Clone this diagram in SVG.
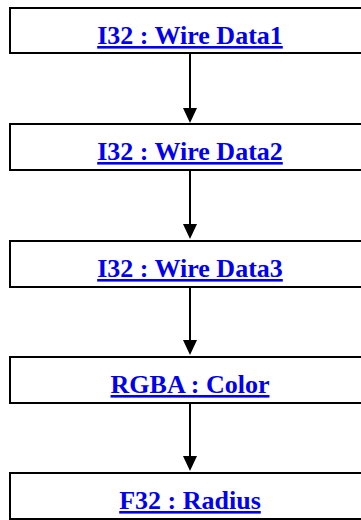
<svg xmlns="http://www.w3.org/2000/svg" width="361" height="520" viewBox="0 0 361 520">
<style>
.box{fill:#fff;stroke:#000;stroke-width:2}
.lbl{font-family:"Liberation Serif","Times New Roman",serif;font-weight:bold;font-size:26px;fill:#0000ee;text-anchor:middle;text-decoration:underline}
.edge{stroke:#000;stroke-width:2;fill:none}
.head{fill:#000}
</style>
<rect width="361" height="520" fill="#fff"/>
<g id="connectors">
<line class="edge" x1="190" y1="54" x2="190" y2="110"/><path class="head" d="M183,108 L197,108 L190,123 Z"/>
<line class="edge" x1="190" y1="170" x2="190" y2="226"/><path class="head" d="M183,224 L197,224 L190,239 Z"/>
<line class="edge" x1="190" y1="287" x2="190" y2="342"/><path class="head" d="M183,340 L197,340 L190,355 Z"/>
<line class="edge" x1="190" y1="403" x2="190" y2="458"/><path class="head" d="M183,456 L197,456 L190,471 Z"/>
</g>
<g id="n1"><rect class="box" x="10" y="8" width="360" height="45"/><text class="lbl" x="190" y="44">I32 : Wire Data1</text></g>
<g id="n2"><rect class="box" x="10" y="124" width="360" height="46"/><text class="lbl" x="190" y="160">I32 : Wire Data2</text></g>
<g id="n3"><rect class="box" x="10" y="241" width="360" height="46"/><text class="lbl" x="190" y="277">I32 : Wire Data3</text></g>
<g id="n4"><rect class="box" x="10" y="357" width="360" height="46"/><text class="lbl" x="190" y="393">RGBA : Color</text></g>
<g id="n5"><rect class="box" x="10" y="473" width="360" height="46"/><text class="lbl" x="190" y="509">F32 : Radius</text></g>
</svg>
